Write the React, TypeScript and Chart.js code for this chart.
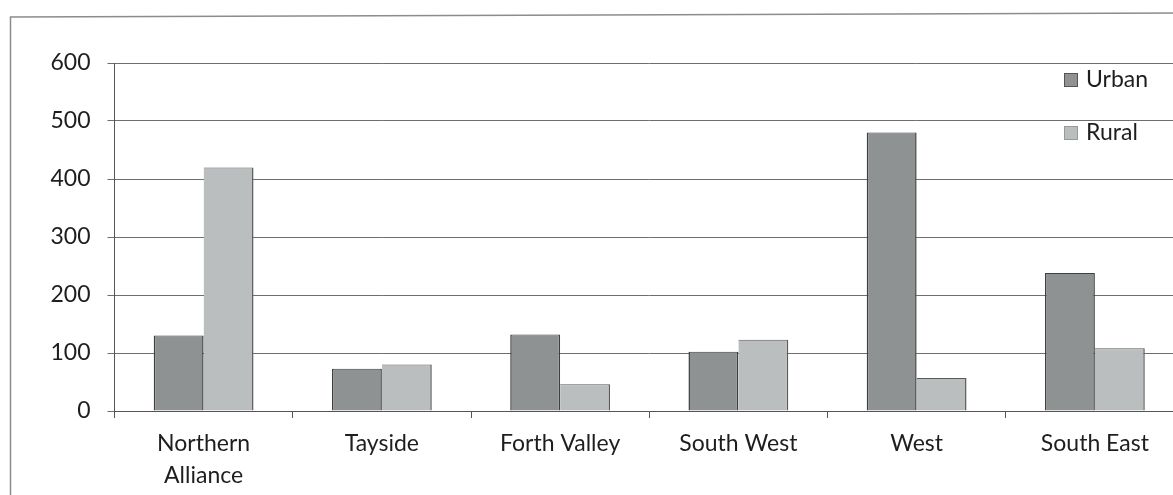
import React, { useEffect, useRef } from "react";
import { Chart, registerables } from "chart.js";

Chart.register(...registerables);

const categories: (string | string[])[] = [
  ["Northern", "Alliance"],
  "Tayside",
  "Forth Valley",
  "South West",
  "West",
  "South East",
];
const seriesNames = ["Urban", "Rural"];
const urbanValues = [130, 73, 132, 102, 480, 238];
const ruralValues = [420, 80, 46, 123, 57, 108];
const yMin = 0;
const yMax = 600;
const yStep = 100;

const URBAN_COLOR = "#8e9292";
const RURAL_COLOR = "#babebf";
const EDGE = "#3f3f3f";
const FONT = "Lato";
const TEXT = "#1e1e1e";

const framePlugin = {
  id: "frame",
  beforeDraw(chart: any) {
    const ctx = chart.ctx;
    ctx.save();
    ctx.fillStyle = "#ffffff";
    ctx.fillRect(0, 0, chart.width, chart.height);
    ctx.strokeStyle = "#8c8c8c";
    ctx.lineWidth = 1.5;
    ctx.beginPath();
    ctx.moveTo(10.5, chart.height);
    ctx.lineTo(10.5, 17);
    ctx.lineTo(chart.width, 13);
    ctx.stroke();
    ctx.restore();
  },
};

const legendPlugin = {
  id: "insideLegend",
  afterDraw(chart: any) {
    const ctx = chart.ctx;
    ctx.save();
    chart.data.datasets.forEach((ds: any, i: number) => {
      const cy = 80 + i * 53;
      const bx = 1064;
      ctx.fillStyle = ds.backgroundColor;
      ctx.fillRect(bx, cy - 7, 14, 14);
      ctx.strokeStyle = i === 0 ? "#555" : "#999";
      ctx.lineWidth = 1;
      ctx.strokeRect(bx + 0.5, cy - 6.5, 13, 13);
      ctx.fillStyle = TEXT;
      ctx.font = `23px ${FONT}`;
      ctx.textBaseline = "middle";
      ctx.textAlign = "left";
      ctx.fillText(ds.label, 1086, cy);
    });
    ctx.restore();
  },
};

export default function App() {
  const ref = useRef<HTMLCanvasElement | null>(null);

  useEffect(() => {
    if (!ref.current) return;
    const chart = new Chart(ref.current, {
      type: "bar",
      data: {
        labels: categories,
        datasets: [
          {
            label: seriesNames[0],
            data: urbanValues,
            backgroundColor: URBAN_COLOR,
            borderColor: EDGE,
            borderWidth: { left: 1.5, right: 1.5, top: 1, bottom: 0 },
            borderSkipped: false,
          },
          {
            label: seriesNames[1],
            data: ruralValues,
            backgroundColor: RURAL_COLOR,
            borderColor: "#5a5a5a",
            borderWidth: { left: 0, right: 1.5, top: 1, bottom: 0 },
            borderSkipped: false,
          },
        ],
      },
      options: {
        responsive: false,
        animation: false,
        devicePixelRatio: 1,
        categoryPercentage: 0.56,
        barPercentage: 1.0,
        layout: { padding: { left: 10, right: 0, top: 63, bottom: 0 } },
        plugins: {
          legend: { display: false },
          tooltip: { enabled: false },
          title: { display: false },
        },
        scales: {
          x: {
            offset: true,
            grid: {
              display: true,
              drawOnChartArea: false,
              drawTicks: true,
              tickLength: 7,
              color: "#555",
              offset: true,
            },
            border: { display: true, color: "#555", width: 1 },
            ticks: {
              color: TEXT,
              font: { family: FONT, size: 23, lineHeight: 1.39 },
              padding: 10,
              maxRotation: 0,
              autoSkip: false,
            },
            afterFit: (scale: any) => {
              scale.height = 84;
            },
          },
          y: {
            min: yMin,
            max: yMax,
            grid: {
              color: "#6e6e6e",
              lineWidth: 1,
              tickLength: 7,
              drawTicks: true,
            },
            border: { display: true, color: "#555", width: 1 },
            ticks: {
              stepSize: yStep,
              color: TEXT,
              font: { family: FONT, size: 23 },
              padding: 17,
            },
            afterFit: (scale: any) => {
              scale.width = 104.5;
            },
          },
        },
      },
      plugins: [framePlugin, legendPlugin],
    });
    return () => chart.destroy();
  }, []);

  return (
    <div
      style={{
        position: "fixed",
        left: 0,
        top: 0,
        width: 1173,
        height: 495,
        overflow: "hidden",
        background: "#fff",
      }}
    >
      <canvas
        ref={ref}
        width={1184}
        height={495}
        style={{ display: "block", width: 1184, height: 495 }}
      />
    </div>
  );
}
